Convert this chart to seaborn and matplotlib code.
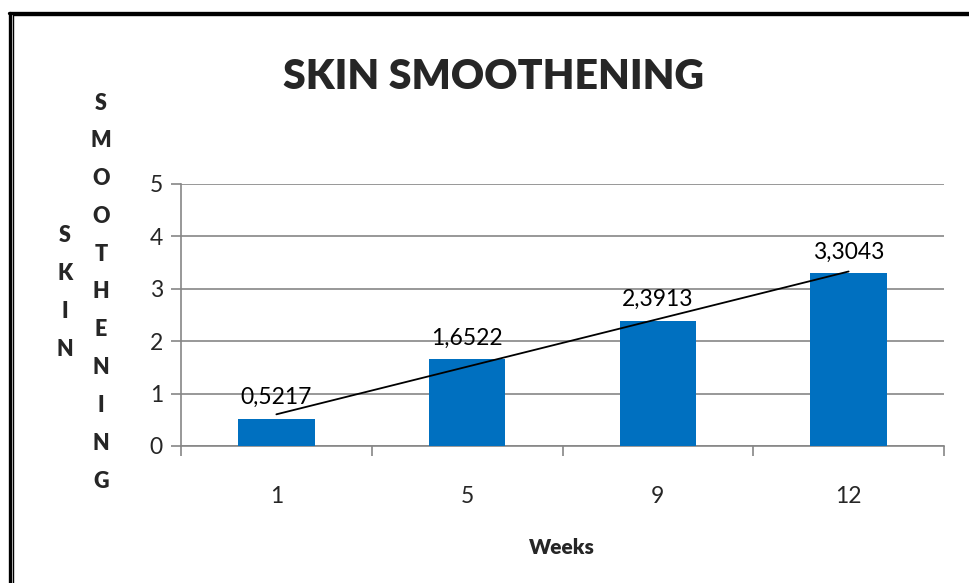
import matplotlib
matplotlib.use("Agg")
import matplotlib.pyplot as plt
from matplotlib.lines import Line2D
import seaborn as sns
import pandas as pd
import numpy as np

weeks = ["1", "5", "9", "12"]
values = [0.5217, 1.6522, 2.3913, 3.3043]
value_labels = ["0,5217", "1,6522", "2,3913", "3,3043"]
y_ticks = [0, 1, 2, 3, 4, 5]
title = "SKIN SMOOTHENING"
x_label = "Weeks"
y_label_1 = "SKIN"
y_label_2 = "SMOOTHENING"

sns.set_theme(style="white")
FONT = ["Lato", "DejaVu Sans"]
plt.rcParams["font.family"] = FONT

W, H = 969, 583
fig = plt.figure(figsize=(W / 100, H / 100), dpi=100)
ax = fig.add_axes([181 / W, 1 - 446 / H, (944 - 181) / W, (446 - 184) / H])

df = pd.DataFrame({"week": weeks, "value": values})
sns.barplot(data=df, x="week", y="value", color="#0070C0", saturation=1,
            width=0.4, ax=ax, zorder=3, edgecolor="none", linewidth=0)

# linear trendline
xs = np.arange(len(values))
m, b = np.polyfit(xs, values, 1)
ax.plot([xs[0], xs[-1]], [m * xs[0] + b, m * xs[-1] + b], color="black",
        lw=1.3, zorder=4)

for i, (v, lab) in enumerate(zip(values, value_labels)):
    ax.annotate(lab, (i, v), xytext=(0, 7.5), textcoords="offset points",
                ha="center", va="bottom", fontsize=16.5, color="black", zorder=5)

ax.set_xlim(-0.5, len(values) - 0.5)
ax.set_ylim(0, 5)
ax.set_yticks(y_ticks)
ax.set_yticklabels([str(t) for t in y_ticks], fontsize=16.5)
ax.set_xticks(range(len(weeks)))
ax.set_xticklabels(weeks, fontsize=16.5)
ax.set_xticks(np.arange(-0.5, len(weeks), 1.0), minor=True)
ax.tick_params(axis="x", which="major", length=0, pad=29)
ax.tick_params(axis="x", which="minor", length=7, width=1.2, color="#868686",
               direction="out", bottom=True)
ax.tick_params(axis="y", which="major", length=7, width=1.2, color="#868686",
               direction="out", left=True, pad=6)
ax.yaxis.grid(True, color="#868686", lw=1.2, zorder=0)
ax.set_axisbelow(True)
for s in ["top", "right"]:
    ax.spines[s].set_visible(False)
for s in ["left", "bottom"]:
    ax.spines[s].set_color("#868686")
    ax.spines[s].set_linewidth(1.2)
ax.set_xlabel("")
ax.set_ylabel("")

fig.text(562 / W, 1 - 547 / H, x_label, ha="center", va="center",
         fontsize=15, fontweight="heavy")
fig.text(494 / W, 1 - 77 / H, title, ha="center", va="center",
         fontsize=29.5, fontweight="heavy")

for k, ch in enumerate(y_label_1):
    fig.text(65 / W, 1 - (236 + 38 * k) / H, ch, ha="center", va="center",
             fontsize=15.5, fontweight="heavy")
for k, ch in enumerate(y_label_2):
    fig.text(101 / W, 1 - (103 + 37.8 * k) / H, ch, ha="center", va="center",
             fontsize=15.5, fontweight="heavy")

# double border
def fl(x0, y0, x1, y1, lw):
    fig.add_artist(Line2D([x0 / W, x1 / W], [1 - y0 / H, 1 - y1 / H],
                          color="black", lw=lw, transform=fig.transFigure))
fl(10, 12.5, 10, H, 2.4)
fl(8.9, 12.5, W, 12.5, 2.4)
fl(13.2, 14.5, 13.2, H, 1.0)
fl(13.2, 14.5, W, 14.5, 1.0)

fig.savefig("out.png", dpi=100)
